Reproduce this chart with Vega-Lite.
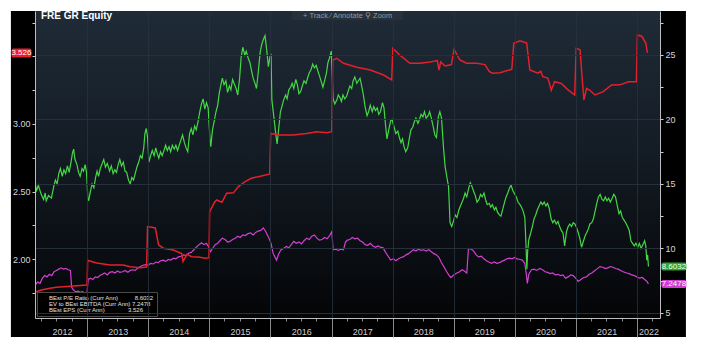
{
"$schema": "https://vega.github.io/schema/vega-lite/v6.json",
"width": 625, "height": 307,
"autosize": {"type": "none"},
"padding": {"left": 35, "top": 11, "right": 43, "bottom": 34},
"background": "white",
"title": {"text": "FRE GR Equity", "anchor": "start", "frame": "group", "offset": -10, "dx": 6, "color": "#ffffff", "fontSize": 10, "fontWeight": "bold", "font": "Liberation Sans", "zindex": 1},
"config": {
  "view": {"stroke": null},
  "legend": {"orient": "bottom-left", "offset": 2, "fillColor": "rgba(0,0,0,0.92)", "strokeColor": "#4a4a4a", "padding": 3, "rowPadding": 0, "symbolType": "square", "symbolSize": 16, "symbolStrokeWidth": 0, "labelFontSize": 6, "labelColor": "#e0e0e0", "labelFont": "Liberation Sans", "labelLimit": 0, "labelOffset": 3}
},
"datasets": {
"pe": [
{"d":"2012-02-27","v":14.9},{"d":"2012-03-05","v":14.5},{"d":"2012-03-15","v":14.9},{"d":"2012-04-01","v":14.2},{"d":"2012-04-15","v":13.8},{"d":"2012-04-25","v":14.3},{"d":"2012-05-01","v":13.7},{"d":"2012-05-15","v":14.1},{"d":"2012-06-01","v":13.9},{"d":"2012-06-15","v":14.8},{"d":"2012-06-25","v":15.3},{"d":"2012-07-05","v":15.0},{"d":"2012-07-15","v":15.8},{"d":"2012-07-25","v":16.2},{"d":"2012-08-05","v":15.6},{"d":"2012-08-15","v":16.1},{"d":"2012-08-25","v":15.8},{"d":"2012-09-05","v":16.4},{"d":"2012-09-15","v":15.9},{"d":"2012-09-25","v":16.6},{"d":"2012-10-05","v":17.4},{"d":"2012-10-12","v":17.7},{"d":"2012-10-20","v":16.9},{"d":"2012-11-01","v":16.5},{"d":"2012-11-10","v":15.9},{"d":"2012-11-20","v":15.6},{"d":"2012-12-01","v":16.2},{"d":"2012-12-10","v":16.0},{"d":"2012-12-20","v":16.5},{"d":"2012-12-28","v":15.9},
{"d":"2013-01-05","v":13.9},{"d":"2013-01-10","v":13.7},{"d":"2013-01-20","v":14.4},{"d":"2013-01-30","v":15.0},{"d":"2013-02-10","v":14.7},{"d":"2013-02-20","v":15.5},{"d":"2013-03-01","v":16.0},{"d":"2013-03-10","v":15.6},{"d":"2013-03-20","v":16.2},{"d":"2013-04-01","v":16.6},{"d":"2013-04-10","v":16.9},{"d":"2013-04-20","v":16.3},{"d":"2013-05-01","v":16.6},{"d":"2013-05-15","v":16.0},{"d":"2013-05-25","v":16.4},{"d":"2013-06-05","v":15.8},{"d":"2013-06-15","v":16.1},{"d":"2013-06-25","v":15.9},{"d":"2013-07-05","v":16.5},{"d":"2013-07-15","v":16.9},{"d":"2013-07-25","v":16.4},{"d":"2013-08-05","v":16.7},{"d":"2013-08-15","v":16.0},{"d":"2013-08-25","v":15.9},{"d":"2013-09-05","v":15.3},{"d":"2013-09-15","v":15.0},{"d":"2013-09-25","v":15.5},{"d":"2013-10-05","v":15.3},{"d":"2013-10-15","v":15.8},{"d":"2013-10-25","v":16.3},{"d":"2013-11-05","v":16.7},{"d":"2013-11-15","v":17.2},{"d":"2013-11-25","v":17.0},{"d":"2013-12-05","v":17.8},{"d":"2013-12-12","v":18.9},{"d":"2013-12-20","v":19.3},{"d":"2013-12-28","v":18.6},
{"d":"2014-01-05","v":16.7},{"d":"2014-01-15","v":17.2},{"d":"2014-01-25","v":17.6},{"d":"2014-02-05","v":17.2},{"d":"2014-02-15","v":17.8},{"d":"2014-02-25","v":17.3},{"d":"2014-03-05","v":17.0},{"d":"2014-03-15","v":17.5},{"d":"2014-03-25","v":17.2},{"d":"2014-04-05","v":17.6},{"d":"2014-04-15","v":18.0},{"d":"2014-04-25","v":17.6},{"d":"2014-05-05","v":17.9},{"d":"2014-05-15","v":17.5},{"d":"2014-05-25","v":18.0},{"d":"2014-06-05","v":17.7},{"d":"2014-06-15","v":18.0},{"d":"2014-06-25","v":17.6},{"d":"2014-07-05","v":18.0},{"d":"2014-07-15","v":18.4},{"d":"2014-07-25","v":18.8},{"d":"2014-08-05","v":18.2},{"d":"2014-08-15","v":17.8},{"d":"2014-08-25","v":17.5},{"d":"2014-09-05","v":18.9},{"d":"2014-09-15","v":19.3},{"d":"2014-09-25","v":18.8},{"d":"2014-10-05","v":19.5},{"d":"2014-10-15","v":19.2},{"d":"2014-10-25","v":19.8},{"d":"2014-11-05","v":20.6},{"d":"2014-11-15","v":21.2},{"d":"2014-11-25","v":21.6},{"d":"2014-12-05","v":20.8},{"d":"2014-12-15","v":21.3},{"d":"2014-12-25","v":20.9},
{"d":"2015-01-05","v":18.5},{"d":"2015-01-10","v":17.9},{"d":"2015-01-20","v":19.2},{"d":"2015-02-01","v":20.0},{"d":"2015-02-10","v":20.6},{"d":"2015-02-20","v":21.1},{"d":"2015-03-01","v":22.0},{"d":"2015-03-10","v":22.6},{"d":"2015-03-20","v":23.2},{"d":"2015-03-30","v":22.7},{"d":"2015-04-10","v":23.0},{"d":"2015-04-20","v":22.1},{"d":"2015-05-01","v":22.6},{"d":"2015-05-10","v":22.3},{"d":"2015-05-20","v":23.1},{"d":"2015-06-01","v":22.7},{"d":"2015-06-10","v":22.4},{"d":"2015-06-20","v":21.9},{"d":"2015-07-01","v":23.2},{"d":"2015-07-10","v":24.8},{"d":"2015-07-20","v":25.6},{"d":"2015-08-01","v":25.0},{"d":"2015-08-10","v":25.3},{"d":"2015-08-20","v":24.8},{"d":"2015-09-01","v":24.4},{"d":"2015-09-10","v":23.8},{"d":"2015-09-20","v":23.2},{"d":"2015-10-01","v":22.8},{"d":"2015-10-10","v":22.4},{"d":"2015-10-20","v":23.6},{"d":"2015-11-01","v":25.2},{"d":"2015-11-10","v":25.8},{"d":"2015-11-20","v":26.2},{"d":"2015-11-30","v":26.5},{"d":"2015-12-10","v":25.4},{"d":"2015-12-20","v":24.1},{"d":"2015-12-30","v":24.9},
{"d":"2016-01-05","v":25.1},{"d":"2016-01-10","v":21.5},{"d":"2016-01-20","v":20.4},{"d":"2016-02-01","v":19.0},{"d":"2016-02-10","v":18.1},{"d":"2016-02-20","v":19.3},{"d":"2016-03-01","v":20.6},{"d":"2016-03-10","v":21.0},{"d":"2016-03-20","v":21.5},{"d":"2016-04-01","v":21.9},{"d":"2016-04-10","v":21.6},{"d":"2016-04-20","v":22.3},{"d":"2016-05-01","v":22.5},{"d":"2016-05-10","v":22.8},{"d":"2016-05-20","v":22.4},{"d":"2016-06-01","v":23.1},{"d":"2016-06-10","v":22.7},{"d":"2016-06-20","v":22.0},{"d":"2016-07-01","v":22.2},{"d":"2016-07-10","v":22.6},{"d":"2016-07-20","v":23.0},{"d":"2016-08-01","v":22.8},{"d":"2016-08-10","v":23.2},{"d":"2016-08-20","v":23.6},{"d":"2016-09-01","v":23.9},{"d":"2016-09-10","v":24.3},{"d":"2016-09-20","v":24.0},{"d":"2016-10-01","v":24.2},{"d":"2016-10-10","v":23.8},{"d":"2016-10-20","v":23.4},{"d":"2016-11-01","v":22.9},{"d":"2016-11-10","v":22.5},{"d":"2016-11-20","v":23.0},{"d":"2016-12-01","v":23.6},{"d":"2016-12-10","v":24.4},{"d":"2016-12-20","v":24.8},{"d":"2016-12-30","v":25.3},
{"d":"2017-01-10","v":21.6},{"d":"2017-01-20","v":21.2},{"d":"2017-02-01","v":21.5},{"d":"2017-02-10","v":21.9},{"d":"2017-02-20","v":21.7},{"d":"2017-03-01","v":21.4},{"d":"2017-03-10","v":21.9},{"d":"2017-03-20","v":21.6},{"d":"2017-04-01","v":21.8},{"d":"2017-04-10","v":22.2},{"d":"2017-04-20","v":22.6},{"d":"2017-05-01","v":22.4},{"d":"2017-05-10","v":23.0},{"d":"2017-05-20","v":23.3},{"d":"2017-06-01","v":22.8},{"d":"2017-06-10","v":23.0},{"d":"2017-06-20","v":23.2},{"d":"2017-07-01","v":22.5},{"d":"2017-07-10","v":21.9},{"d":"2017-07-20","v":21.0},{"d":"2017-08-01","v":20.3},{"d":"2017-08-10","v":20.6},{"d":"2017-08-20","v":21.1},{"d":"2017-09-01","v":20.6},{"d":"2017-09-10","v":21.0},{"d":"2017-09-20","v":20.7},{"d":"2017-10-01","v":20.9},{"d":"2017-10-10","v":20.4},{"d":"2017-10-20","v":20.6},{"d":"2017-11-01","v":21.3},{"d":"2017-11-10","v":20.9},{"d":"2017-11-20","v":19.5},{"d":"2017-11-28","v":18.5},{"d":"2017-12-10","v":19.3},{"d":"2017-12-20","v":19.9},{"d":"2017-12-28","v":20.0},
{"d":"2018-01-10","v":19.4},{"d":"2018-01-20","v":18.9},{"d":"2018-02-01","v":19.1},{"d":"2018-02-10","v":18.6},{"d":"2018-02-20","v":18.2},{"d":"2018-03-01","v":18.5},{"d":"2018-03-10","v":17.9},{"d":"2018-03-20","v":17.5},{"d":"2018-04-01","v":17.8},{"d":"2018-04-10","v":18.5},{"d":"2018-04-20","v":19.2},{"d":"2018-05-01","v":19.4},{"d":"2018-05-10","v":19.8},{"d":"2018-05-20","v":20.1},{"d":"2018-06-01","v":19.7},{"d":"2018-06-10","v":20.0},{"d":"2018-06-20","v":20.4},{"d":"2018-07-01","v":20.2},{"d":"2018-07-10","v":20.6},{"d":"2018-07-20","v":20.1},{"d":"2018-08-01","v":20.3},{"d":"2018-08-10","v":20.6},{"d":"2018-08-20","v":20.1},{"d":"2018-09-01","v":19.4},{"d":"2018-09-10","v":18.8},{"d":"2018-09-20","v":18.6},{"d":"2018-10-01","v":20.2},{"d":"2018-10-10","v":20.6},{"d":"2018-10-20","v":20.1},{"d":"2018-11-01","v":17.8},{"d":"2018-11-10","v":16.4},{"d":"2018-11-20","v":15.6},{"d":"2018-12-01","v":14.8},{"d":"2018-12-10","v":12.0},{"d":"2018-12-20","v":11.7},
{"d":"2019-01-01","v":12.2},{"d":"2019-01-10","v":12.6},{"d":"2019-01-20","v":12.4},{"d":"2019-02-01","v":13.0},{"d":"2019-02-10","v":13.3},{"d":"2019-02-20","v":13.6},{"d":"2019-03-01","v":13.9},{"d":"2019-03-10","v":14.3},{"d":"2019-03-20","v":14.0},{"d":"2019-04-01","v":14.7},{"d":"2019-04-10","v":15.1},{"d":"2019-04-20","v":14.8},{"d":"2019-05-01","v":14.4},{"d":"2019-05-10","v":14.1},{"d":"2019-05-20","v":13.6},{"d":"2019-06-01","v":13.8},{"d":"2019-06-10","v":14.2},{"d":"2019-06-20","v":14.0},{"d":"2019-07-01","v":14.3},{"d":"2019-07-10","v":13.8},{"d":"2019-07-20","v":13.4},{"d":"2019-08-01","v":13.5},{"d":"2019-08-10","v":13.2},{"d":"2019-08-20","v":13.4},{"d":"2019-09-01","v":13.0},{"d":"2019-09-10","v":13.2},{"d":"2019-09-20","v":12.8},{"d":"2019-10-01","v":12.6},{"d":"2019-10-10","v":12.5},{"d":"2019-10-20","v":13.0},{"d":"2019-11-01","v":13.6},{"d":"2019-11-10","v":14.0},{"d":"2019-11-20","v":14.3},{"d":"2019-12-01","v":14.7},{"d":"2019-12-10","v":14.9},{"d":"2019-12-20","v":14.5},
{"d":"2020-01-01","v":14.2},{"d":"2020-01-10","v":14.0},{"d":"2020-01-20","v":13.6},{"d":"2020-02-01","v":13.4},{"d":"2020-02-10","v":13.2},{"d":"2020-02-20","v":12.9},{"d":"2020-03-01","v":12.4},{"d":"2020-03-08","v":10.3},{"d":"2020-03-13","v":8.4},{"d":"2020-03-18","v":9.8},{"d":"2020-03-25","v":10.7},{"d":"2020-04-05","v":11.2},{"d":"2020-04-15","v":11.7},{"d":"2020-04-25","v":12.3},{"d":"2020-05-05","v":12.6},{"d":"2020-05-15","v":13.0},{"d":"2020-05-25","v":13.3},{"d":"2020-06-05","v":13.6},{"d":"2020-06-15","v":13.4},{"d":"2020-06-25","v":13.6},{"d":"2020-07-05","v":13.3},{"d":"2020-07-15","v":13.5},{"d":"2020-07-25","v":13.1},{"d":"2020-08-05","v":12.3},{"d":"2020-08-15","v":12.0},{"d":"2020-08-25","v":12.2},{"d":"2020-09-05","v":11.9},{"d":"2020-09-15","v":12.1},{"d":"2020-09-25","v":11.7},{"d":"2020-10-05","v":11.4},{"d":"2020-10-15","v":11.2},{"d":"2020-10-25","v":10.2},{"d":"2020-11-05","v":11.3},{"d":"2020-11-15","v":11.7},{"d":"2020-11-25","v":11.9},{"d":"2020-12-05","v":11.7},{"d":"2020-12-15","v":12.0},{"d":"2020-12-25","v":11.9},
{"d":"2021-01-05","v":11.6},{"d":"2021-01-15","v":11.2},{"d":"2021-01-25","v":10.7},{"d":"2021-02-03","v":10.1},{"d":"2021-02-15","v":10.6},{"d":"2021-02-25","v":11.0},{"d":"2021-03-05","v":11.2},{"d":"2021-03-15","v":11.5},{"d":"2021-03-25","v":11.9},{"d":"2021-04-05","v":12.0},{"d":"2021-04-15","v":12.3},{"d":"2021-04-25","v":12.9},{"d":"2021-05-05","v":13.5},{"d":"2021-05-15","v":14.0},{"d":"2021-05-25","v":14.2},{"d":"2021-06-05","v":13.8},{"d":"2021-06-15","v":13.7},{"d":"2021-06-25","v":14.0},{"d":"2021-07-05","v":13.7},{"d":"2021-07-15","v":13.9},{"d":"2021-07-25","v":13.6},{"d":"2021-08-05","v":13.9},{"d":"2021-08-15","v":14.2},{"d":"2021-08-25","v":14.0},{"d":"2021-09-05","v":13.3},{"d":"2021-09-15","v":12.7},{"d":"2021-09-25","v":12.9},{"d":"2021-10-05","v":12.4},{"d":"2021-10-15","v":12.2},{"d":"2021-10-25","v":12.0},{"d":"2021-11-05","v":11.7},{"d":"2021-11-15","v":11.4},{"d":"2021-11-25","v":10.6},{"d":"2021-12-05","v":10.4},{"d":"2021-12-15","v":10.2},{"d":"2021-12-25","v":10.4},
{"d":"2022-01-05","v":10.1},{"d":"2022-01-15","v":10.4},{"d":"2022-01-25","v":10.0},{"d":"2022-02-05","v":10.3},{"d":"2022-02-15","v":10.6},{"d":"2022-02-22","v":10.2},{"d":"2022-02-28","v":9.1},{"d":"2022-03-05","v":9.5},{"d":"2022-03-10","v":8.6}
],
"ev": [
{"d":"2012-02-27","v":7.2},{"d":"2012-03-10","v":7.4},{"d":"2012-03-25","v":7.3},{"d":"2012-04-08","v":7.7},{"d":"2012-04-22","v":7.9},{"d":"2012-05-06","v":7.8},{"d":"2012-05-20","v":8.0},{"d":"2012-06-03","v":7.9},{"d":"2012-06-17","v":8.2},{"d":"2012-07-01","v":8.3},{"d":"2012-07-15","v":8.4},{"d":"2012-07-29","v":8.5},{"d":"2012-08-12","v":8.4},{"d":"2012-08-26","v":8.45},{"d":"2012-09-09","v":8.35},{"d":"2012-09-23","v":8.3},{"d":"2012-09-30","v":7.0},{"d":"2012-10-10","v":6.8},{"d":"2012-10-24","v":6.65},{"d":"2012-11-07","v":6.7},{"d":"2012-11-21","v":6.6},{"d":"2012-12-05","v":6.65},{"d":"2012-12-19","v":6.5},{"d":"2012-12-31","v":6.6},
{"d":"2013-01-07","v":7.6},{"d":"2013-01-21","v":7.7},{"d":"2013-02-04","v":7.6},{"d":"2013-02-18","v":7.8},{"d":"2013-03-04","v":7.75},{"d":"2013-03-18","v":7.9},{"d":"2013-04-01","v":8.0},{"d":"2013-04-15","v":8.1},{"d":"2013-05-01","v":7.95},{"d":"2013-05-15","v":8.15},{"d":"2013-06-01","v":8.2},{"d":"2013-06-15","v":8.1},{"d":"2013-07-01","v":8.25},{"d":"2013-07-15","v":8.15},{"d":"2013-08-01","v":8.2},{"d":"2013-08-15","v":8.3},{"d":"2013-09-01","v":8.15},{"d":"2013-09-15","v":8.3},{"d":"2013-10-01","v":8.35},{"d":"2013-10-15","v":8.3},{"d":"2013-11-01","v":8.5},{"d":"2013-11-15","v":8.6},{"d":"2013-12-01","v":8.7},{"d":"2013-12-15","v":8.75},
{"d":"2014-01-01","v":8.7},{"d":"2014-01-15","v":8.85},{"d":"2014-02-01","v":8.8},{"d":"2014-02-15","v":8.95},{"d":"2014-03-01","v":8.9},{"d":"2014-03-15","v":9.05},{"d":"2014-04-01","v":9.1},{"d":"2014-04-15","v":9.0},{"d":"2014-05-01","v":9.15},{"d":"2014-05-15","v":9.1},{"d":"2014-06-01","v":9.25},{"d":"2014-06-15","v":9.2},{"d":"2014-07-01","v":9.35},{"d":"2014-07-15","v":9.4},{"d":"2014-08-01","v":9.5},{"d":"2014-08-15","v":9.45},{"d":"2014-09-01","v":9.65},{"d":"2014-09-15","v":9.7},{"d":"2014-10-01","v":9.9},{"d":"2014-10-15","v":10.1},{"d":"2014-11-01","v":10.3},{"d":"2014-11-15","v":10.45},{"d":"2014-12-01","v":10.3},{"d":"2014-12-15","v":10.4},{"d":"2014-12-29","v":10.1},
{"d":"2015-01-08","v":9.75},{"d":"2015-01-20","v":10.0},{"d":"2015-02-05","v":10.3},{"d":"2015-02-20","v":10.4},{"d":"2015-03-05","v":10.6},{"d":"2015-03-20","v":10.8},{"d":"2015-04-05","v":10.7},{"d":"2015-04-20","v":10.5},{"d":"2015-05-05","v":10.55},{"d":"2015-05-20","v":10.7},{"d":"2015-06-05","v":10.8},{"d":"2015-06-20","v":10.95},{"d":"2015-07-05","v":10.85},{"d":"2015-07-20","v":11.05},{"d":"2015-08-05","v":11.0},{"d":"2015-08-20","v":11.15},{"d":"2015-09-05","v":11.2},{"d":"2015-09-20","v":11.05},{"d":"2015-10-05","v":11.25},{"d":"2015-10-20","v":11.35},{"d":"2015-11-05","v":11.4},{"d":"2015-11-20","v":11.6},{"d":"2015-12-05","v":11.3},{"d":"2015-12-20","v":10.9},
{"d":"2016-01-05","v":10.4},{"d":"2016-01-18","v":9.6},{"d":"2016-02-07","v":9.1},{"d":"2016-02-20","v":9.6},{"d":"2016-03-05","v":9.9},{"d":"2016-03-20","v":10.0},{"d":"2016-04-05","v":10.15},{"d":"2016-04-20","v":10.05},{"d":"2016-05-05","v":10.3},{"d":"2016-05-20","v":10.55},{"d":"2016-06-05","v":10.4},{"d":"2016-06-20","v":10.5},{"d":"2016-07-05","v":10.35},{"d":"2016-07-20","v":10.6},{"d":"2016-08-05","v":10.8},{"d":"2016-08-20","v":10.7},{"d":"2016-09-05","v":10.95},{"d":"2016-09-20","v":11.05},{"d":"2016-10-05","v":10.8},{"d":"2016-10-20","v":10.65},{"d":"2016-11-05","v":10.7},{"d":"2016-11-20","v":10.85},{"d":"2016-12-05","v":10.75},{"d":"2016-12-20","v":11.0},
{"d":"2017-01-02","v":11.3},{"d":"2017-01-10","v":9.9},{"d":"2017-01-25","v":9.95},{"d":"2017-02-10","v":9.85},{"d":"2017-02-25","v":9.95},{"d":"2017-03-13","v":9.9},{"d":"2017-03-25","v":10.5},{"d":"2017-04-05","v":10.65},{"d":"2017-04-20","v":10.7},{"d":"2017-05-05","v":10.85},{"d":"2017-05-20","v":10.75},{"d":"2017-06-05","v":10.8},{"d":"2017-06-20","v":10.6},{"d":"2017-07-05","v":10.5},{"d":"2017-07-20","v":10.3},{"d":"2017-08-05","v":10.25},{"d":"2017-08-20","v":10.4},{"d":"2017-09-05","v":10.2},{"d":"2017-09-20","v":10.1},{"d":"2017-10-05","v":10.2},{"d":"2017-10-20","v":10.1},{"d":"2017-11-05","v":10.05},{"d":"2017-11-20","v":9.7},{"d":"2017-12-05","v":9.4},{"d":"2017-12-20","v":9.1},
{"d":"2018-01-05","v":9.2},{"d":"2018-01-20","v":9.05},{"d":"2018-02-05","v":9.2},{"d":"2018-02-20","v":9.3},{"d":"2018-03-05","v":9.35},{"d":"2018-03-20","v":9.5},{"d":"2018-04-05","v":9.6},{"d":"2018-04-20","v":9.75},{"d":"2018-05-05","v":9.9},{"d":"2018-05-20","v":9.8},{"d":"2018-06-05","v":9.95},{"d":"2018-06-20","v":9.85},{"d":"2018-07-05","v":9.9},{"d":"2018-07-20","v":9.8},{"d":"2018-08-05","v":9.9},{"d":"2018-08-20","v":9.75},{"d":"2018-09-05","v":9.6},{"d":"2018-09-20","v":9.5},{"d":"2018-10-05","v":9.3},{"d":"2018-10-20","v":8.9},{"d":"2018-11-05","v":8.55},{"d":"2018-11-20","v":8.2},{"d":"2018-12-05","v":7.9},{"d":"2018-12-15","v":7.75},
{"d":"2019-01-01","v":7.95},{"d":"2019-01-20","v":8.1},{"d":"2019-02-05","v":8.2},{"d":"2019-02-20","v":8.35},{"d":"2019-03-05","v":8.25},{"d":"2019-03-20","v":8.1},{"d":"2019-03-30","v":10.0},{"d":"2019-04-15","v":9.95},{"d":"2019-04-30","v":9.8},{"d":"2019-05-15","v":9.5},{"d":"2019-05-30","v":9.35},{"d":"2019-06-15","v":9.4},{"d":"2019-06-30","v":9.2},{"d":"2019-07-15","v":9.05},{"d":"2019-07-30","v":8.95},{"d":"2019-08-15","v":8.85},{"d":"2019-09-01","v":8.95},{"d":"2019-09-15","v":8.85},{"d":"2019-10-01","v":8.9},{"d":"2019-10-15","v":9.0},{"d":"2019-11-01","v":9.1},{"d":"2019-11-15","v":9.2},{"d":"2019-12-01","v":9.25},{"d":"2019-12-15","v":9.2},
{"d":"2020-01-01","v":9.3},{"d":"2020-01-15","v":9.2},{"d":"2020-02-01","v":9.15},{"d":"2020-02-15","v":9.1},{"d":"2020-03-01","v":8.85},{"d":"2020-03-10","v":8.0},{"d":"2020-03-16","v":7.3},{"d":"2020-03-25","v":8.0},{"d":"2020-04-10","v":8.35},{"d":"2020-04-25","v":8.4},{"d":"2020-05-10","v":8.3},{"d":"2020-05-30","v":8.45},{"d":"2020-06-15","v":8.35},{"d":"2020-06-30","v":8.2},{"d":"2020-07-15","v":8.15},{"d":"2020-07-30","v":8.05},{"d":"2020-08-15","v":8.1},{"d":"2020-08-30","v":7.95},{"d":"2020-09-15","v":8.0},{"d":"2020-09-30","v":7.9},{"d":"2020-10-15","v":7.95},{"d":"2020-10-30","v":7.7},{"d":"2020-11-15","v":7.8},{"d":"2020-11-30","v":7.95},{"d":"2020-12-15","v":7.9},{"d":"2020-12-30","v":7.7},
{"d":"2021-01-14","v":7.45},{"d":"2021-01-30","v":7.6},{"d":"2021-02-15","v":7.75},{"d":"2021-03-05","v":7.8},{"d":"2021-03-20","v":8.0},{"d":"2021-04-05","v":8.1},{"d":"2021-04-20","v":8.25},{"d":"2021-05-05","v":8.4},{"d":"2021-05-24","v":8.6},{"d":"2021-06-10","v":8.55},{"d":"2021-06-25","v":8.45},{"d":"2021-07-10","v":8.5},{"d":"2021-07-25","v":8.6},{"d":"2021-08-10","v":8.55},{"d":"2021-08-25","v":8.45},{"d":"2021-09-10","v":8.4},{"d":"2021-09-25","v":8.3},{"d":"2021-10-10","v":8.2},{"d":"2021-10-31","v":8.1},{"d":"2021-11-15","v":8.05},{"d":"2021-11-30","v":7.95},{"d":"2021-12-15","v":7.9},{"d":"2021-12-31","v":7.8},
{"d":"2022-01-15","v":7.7},{"d":"2022-02-01","v":7.75},{"d":"2022-02-15","v":7.6},{"d":"2022-03-01","v":7.45},{"d":"2022-03-10","v":7.25}
],
"eps": [
{"d":"2012-02-27","v":1.755},{"d":"2012-04-01","v":1.77},{"d":"2012-05-24","v":1.783},{"d":"2012-07-01","v":1.79},{"d":"2012-08-12","v":1.795},{"d":"2012-10-11","v":1.8},{"d":"2012-12-31","v":1.807},
{"d":"2013-01-04","v":1.99},{"d":"2013-02-01","v":1.98},{"d":"2013-02-27","v":1.97},{"d":"2013-05-18","v":1.956},{"d":"2013-08-05","v":1.956},{"d":"2013-09-15","v":1.943},{"d":"2013-11-12","v":1.935},{"d":"2013-12-22","v":1.94},{"d":"2013-12-28","v":2.24},
{"d":"2014-01-20","v":2.235},{"d":"2014-02-12","v":2.23},{"d":"2014-03-04","v":2.104},{"d":"2014-04-01","v":2.08},{"d":"2014-05-31","v":2.067},{"d":"2014-07-20","v":2.04},{"d":"2014-07-28","v":1.98},{"d":"2014-08-05","v":2.0},{"d":"2014-08-20","v":2.035},{"d":"2014-09-18","v":2.017},{"d":"2014-10-28","v":2.015},{"d":"2014-12-07","v":2.005},{"d":"2014-12-30","v":2.01},
{"d":"2015-01-03","v":2.35},{"d":"2015-02-01","v":2.42},{"d":"2015-02-14","v":2.437},{"d":"2015-03-17","v":2.42},{"d":"2015-04-15","v":2.487},{"d":"2015-05-25","v":2.49},{"d":"2015-06-24","v":2.536},{"d":"2015-08-03","v":2.573},{"d":"2015-09-12","v":2.6},{"d":"2015-10-22","v":2.61},{"d":"2015-12-28","v":2.63},
{"d":"2016-01-03","v":2.93},{"d":"2016-02-28","v":2.918},{"d":"2016-05-17","v":2.918},{"d":"2016-08-05","v":2.93},{"d":"2016-10-04","v":2.943},{"d":"2016-12-03","v":2.935},{"d":"2017-01-02","v":2.943},
{"d":"2017-01-08","v":3.474},{"d":"2017-02-01","v":3.487},{"d":"2017-03-13","v":3.45},{"d":"2017-06-01","v":3.42},{"d":"2017-08-20","v":3.4},{"d":"2017-11-08","v":3.363},{"d":"2017-12-26","v":3.326},
{"d":"2018-01-02","v":3.56},{"d":"2018-02-13","v":3.51},{"d":"2018-04-14","v":3.45},{"d":"2018-06-13","v":3.45},{"d":"2018-08-13","v":3.46},{"d":"2018-09-25","v":3.47},{"d":"2018-10-05","v":3.4},{"d":"2018-10-15","v":3.46},{"d":"2018-11-11","v":3.43},{"d":"2018-12-18","v":3.44},
{"d":"2019-01-03","v":3.553},{"d":"2019-02-07","v":3.474},{"d":"2019-03-19","v":3.45},{"d":"2019-05-18","v":3.45},{"d":"2019-07-07","v":3.44},{"d":"2019-08-01","v":3.39},{"d":"2019-08-20","v":3.376},{"d":"2019-10-05","v":3.38},{"d":"2019-12-14","v":3.405},{"d":"2019-12-26","v":3.598},
{"d":"2020-02-01","v":3.617},{"d":"2020-03-12","v":3.6},{"d":"2020-03-31","v":3.4},{"d":"2020-05-18","v":3.376},{"d":"2020-06-04","v":3.39},{"d":"2020-06-17","v":3.35},{"d":"2020-07-17","v":3.34},{"d":"2020-08-06","v":3.25},{"d":"2020-08-26","v":3.313},{"d":"2020-10-05","v":3.3},{"d":"2020-11-04","v":3.264},{"d":"2020-12-24","v":3.215},
{"d":"2021-01-02","v":3.56},{"d":"2021-01-25","v":3.55},{"d":"2021-02-03","v":3.4},{"d":"2021-02-17","v":3.178},{"d":"2021-03-05","v":3.264},{"d":"2021-03-25","v":3.25},{"d":"2021-04-24","v":3.215},{"d":"2021-06-13","v":3.24},{"d":"2021-08-01","v":3.289},{"d":"2021-09-21","v":3.29},{"d":"2021-11-10","v":3.313},{"d":"2021-12-28","v":3.313},
{"d":"2022-01-03","v":3.659},{"d":"2022-01-29","v":3.65},{"d":"2022-02-22","v":3.6},{"d":"2022-03-04","v":3.526}
]
},
"layer": [
{
  "data": {"values": [{}]},
  "mark": {"type": "rect", "color": "#000000"},
  "encoding": {
    "x": {"datum": {"year": 2011, "month": 10, "date": 3}, "type": "temporal", "title": null,
      "scale": {"domain": [{"year": 2012, "month": 2, "date": 24}, {"year": 2022, "month": 5, "date": 18}]},
      "axis": {
        "tickCount": 200,
        "values": [
          {"year": 2012, "month": 4, "date": 1}, {"year": 2012, "month": 7, "date": 1}, {"year": 2012, "month": 8, "date": 3}, {"year": 2012, "month": 10, "date": 1},
          {"year": 2013, "month": 1, "date": 1}, {"year": 2013, "month": 4, "date": 1}, {"year": 2013, "month": 7, "date": 1}, {"year": 2013, "month": 7, "date": 3}, {"year": 2013, "month": 10, "date": 1},
          {"year": 2014, "month": 1, "date": 1}, {"year": 2014, "month": 4, "date": 1}, {"year": 2014, "month": 7, "date": 1}, {"year": 2014, "month": 7, "date": 3}, {"year": 2014, "month": 10, "date": 1},
          {"year": 2015, "month": 1, "date": 1}, {"year": 2015, "month": 4, "date": 1}, {"year": 2015, "month": 7, "date": 1}, {"year": 2015, "month": 7, "date": 3}, {"year": 2015, "month": 10, "date": 1},
          {"year": 2016, "month": 1, "date": 1}, {"year": 2016, "month": 4, "date": 1}, {"year": 2016, "month": 7, "date": 1}, {"year": 2016, "month": 7, "date": 3}, {"year": 2016, "month": 10, "date": 1},
          {"year": 2017, "month": 1, "date": 1}, {"year": 2017, "month": 4, "date": 1}, {"year": 2017, "month": 7, "date": 1}, {"year": 2017, "month": 7, "date": 3}, {"year": 2017, "month": 10, "date": 1},
          {"year": 2018, "month": 1, "date": 1}, {"year": 2018, "month": 4, "date": 1}, {"year": 2018, "month": 7, "date": 1}, {"year": 2018, "month": 7, "date": 3}, {"year": 2018, "month": 10, "date": 1},
          {"year": 2019, "month": 1, "date": 1}, {"year": 2019, "month": 4, "date": 1}, {"year": 2019, "month": 7, "date": 1}, {"year": 2019, "month": 7, "date": 3}, {"year": 2019, "month": 10, "date": 1},
          {"year": 2020, "month": 1, "date": 1}, {"year": 2020, "month": 4, "date": 1}, {"year": 2020, "month": 7, "date": 1}, {"year": 2020, "month": 7, "date": 3}, {"year": 2020, "month": 10, "date": 1},
          {"year": 2021, "month": 1, "date": 1}, {"year": 2021, "month": 4, "date": 1}, {"year": 2021, "month": 7, "date": 1}, {"year": 2021, "month": 7, "date": 3}, {"year": 2021, "month": 10, "date": 1},
          {"year": 2022, "month": 1, "date": 1}, {"year": 2022, "month": 3, "date": 10}, {"year": 2022, "month": 4, "date": 1}
        ],
        "labelExpr": "date(datum.value) == 1 ? '' : timeFormat(datum.value, '%Y')",
        "tickSize": {"condition": {"test": "month(datum.value) == 0 && date(datum.value) == 1", "value": 19}, "value": 3},
        "tickColor": {"condition": {"test": "date(datum.value) == 1", "value": "#8a8a8a"}, "value": "transparent"},
        "grid": true,
        "gridColor": {"condition": {"test": "month(datum.value) == 0 && date(datum.value) == 1", "value": "#27323d"}, "value": "transparent"},
        "gridOpacity": 0.8,
        "domainColor": "#bdbdbd",
        "labelColor": "#cfcfcf", "labelFont": "Liberation Sans", "labelFontSize": 9, "labelPadding": 10, "labelFlush": false, "labelOverlap": false, "labelBaseline": "middle",
        "title": null, "zindex": 1
      }
    },
    "x2": {"datum": {"year": 2022, "month": 10, "date": 20}},
    "y": {"datum": 3.137, "type": "quantitative", "scale": {"domain": [4.612, 28.41], "nice": false, "zero": false}, "axis": null},
    "y2": {"datum": 28.41}
  }
},
{
  "data": {"values": [{}]},
  "mark": {"type": "rect", "color": {"gradient": "linear", "x1": 0, "y1": 0, "x2": 0, "y2": 1, "stops": [{"offset": 0, "color": "#1f2b37"}, {"offset": 0.45, "color": "#141c25"}, {"offset": 1, "color": "#040507"}]}},
  "encoding": {}
},
{
  "data": {"values": [{}]},
  "mark": {"type": "tick", "orient": "horizontal", "size": 111, "thickness": 9, "color": "#26313b", "opacity": 1},
  "encoding": {
    "x": {"datum": {"year": 2017, "month": 4, "date": 7}, "type": "temporal"},
    "y": {"datum": 28.06, "type": "quantitative", "scale": {"domain": [4.612, 28.41], "nice": false, "zero": false}, "axis": null}
  }
},
{
  "data": {"values": [{}]},
  "mark": {"type": "text", "text": "+ Track   ⁄ Annotate   ⚲ Zoom", "font": "Liberation Sans", "fontSize": 7.5, "color": "#8d99a5", "baseline": "middle"},
  "encoding": {
    "x": {"datum": {"year": 2017, "month": 4, "date": 7}, "type": "temporal"},
    "y": {"datum": 28.06, "type": "quantitative", "scale": {"domain": [4.612, 28.41], "nice": false, "zero": false}, "axis": null}
  }
},
{
  "data": {"name": "ev"},
  "mark": {"type": "line", "strokeWidth": 1.2},
  "encoding": {
    "x": {"field": "d", "type": "temporal"},
    "y": {"field": "v", "type": "quantitative", "scale": {"domain": [4.612, 28.41], "nice": false, "zero": false}, "axis": null},
    "color": {"datum": "ev", "type": "nominal", "scale": {"domain": ["pe", "ev", "eps"], "range": ["#44d844", "#d43fd4", "#e3202b"]}, "legend": {"title": null, "labelExpr": "datum.value == 'pe' ? 'BEst P/E Ratio (Curr Ann)\u00a0\u00a0\u00a0\u00a0\u00a0\u00a0\u00a0\u00a0\u00a0\u00a08.6032' : datum.value == 'ev' ? 'EV to BEst EBITDA (Curr Ann)\u00a07.2478' : 'BEst EPS (Curr Ann)\u00a0\u00a0\u00a0\u00a0\u00a0\u00a0\u00a0\u00a0\u00a0\u00a0\u00a0\u00a0\u00a0\u00a03.526'"}}
  }
},
{
  "data": {"name": "pe"},
  "mark": {"type": "line", "strokeWidth": 1.2},
  "encoding": {
    "x": {"field": "d", "type": "temporal"},
    "y": {"field": "v", "type": "quantitative", "scale": {"domain": [4.612, 28.41], "nice": false, "zero": false},
      "axis": {"orient": "right", "title": null, "tickCount": 50, "values": [5, 7.5, 10, 12.5, 15, 17.5, 20, 22.5, 25, 27.5],
        "labelExpr": "datum.value % 5 == 0 ? datum.value : ''",
        "tickSize": 3, "tickColor": "#cfcfcf", "domainColor": "#bdbdbd",
        "grid": true, "gridColor": {"condition": {"test": "datum.value % 5 == 0", "value": "#25303b"}, "value": "transparent"},
        "labelColor": "#d6d6d6", "labelFont": "Liberation Sans", "labelFontSize": 9, "labelPadding": 2, "zindex": 1}},
    "color": {"datum": "pe", "type": "nominal", "scale": {"domain": ["pe", "ev", "eps"], "range": ["#44d844", "#d43fd4", "#e3202b"]}}
  }
},
{
  "data": {"name": "eps"},
  "mark": {"type": "line", "strokeWidth": 1.5},
  "encoding": {
    "x": {"field": "d", "type": "temporal"},
    "y": {"field": "v", "type": "quantitative", "scale": {"domain": [1.563, 3.837], "nice": false, "zero": false},
      "axis": {"orient": "left", "title": null, "tickCount": 50, "values": [1.75, 2, 2.25, 2.5, 2.75, 3, 3.25, 3.5, 3.75],
        "labelExpr": "(datum.value == 2 || datum.value == 2.5 || datum.value == 3) ? format(datum.value, '.2f') : ''",
        "tickSize": 3, "tickColor": "#cfcfcf", "domainColor": "#bdbdbd", "grid": false,
        "labelColor": "#d6d6d6", "labelFont": "Liberation Sans", "labelFontSize": 9, "labelPadding": 2, "zindex": 1}},
    "color": {"datum": "eps", "type": "nominal", "scale": {"domain": ["pe", "ev", "eps"], "range": ["#44d844", "#d43fd4", "#e3202b"]}}
  }
},
{
  "data": {"values": [{"s": "pe", "v": 8.6032, "t": "8.6032"}, {"s": "ev", "v": 7.2478, "t": "7.2478"}]},
  "mark": {"type": "tick", "orient": "horizontal", "size": 25, "thickness": 8, "cornerRadius": 2, "opacity": 1},
  "encoding": {
    "x": {"datum": {"year": 2022, "month": 8, "date": 9}, "type": "temporal"},
    "y": {"field": "v", "type": "quantitative", "scale": {"domain": [4.612, 28.41], "nice": false, "zero": false}, "axis": null},
    "fill": {"field": "s", "type": "nominal", "scale": {"domain": ["pe", "ev"], "range": ["#2ea52e", "#d23cd2"]}, "legend": null}
  }
},
{
  "data": {"values": [{"s": "pe", "v": 8.6032, "t": "8.6032"}, {"s": "ev", "v": 7.2478, "t": "7.2478"}]},
  "mark": {"type": "text", "font": "Liberation Sans", "fontSize": 8, "baseline": "middle", "color": "#f0fff0"},
  "encoding": {
    "x": {"datum": {"year": 2022, "month": 8, "date": 9}, "type": "temporal"},
    "y": {"field": "v", "type": "quantitative", "scale": {"domain": [4.612, 28.41], "nice": false, "zero": false}, "axis": null},
    "text": {"field": "t"}
  }
},
{
  "data": {"values": [{"v": 3.526, "t": "3.526"}]},
  "mark": {"type": "tick", "orient": "horizontal", "size": 20, "thickness": 9, "cornerRadius": 2, "color": "#e8202a", "opacity": 1},
  "encoding": {
    "x": {"datum": {"year": 2011, "month": 12, "date": 5}, "type": "temporal"},
    "y": {"field": "v", "type": "quantitative", "scale": {"domain": [1.563, 3.837], "nice": false, "zero": false}, "axis": null}
  }
},
{
  "data": {"values": [{"v": 3.526, "t": "3.526"}]},
  "mark": {"type": "text", "font": "Liberation Sans", "fontSize": 8, "baseline": "middle", "color": "#ffffff"},
  "encoding": {
    "x": {"datum": {"year": 2011, "month": 12, "date": 5}, "type": "temporal"},
    "y": {"field": "v", "type": "quantitative", "scale": {"domain": [1.563, 3.837], "nice": false, "zero": false}, "axis": null},
    "text": {"field": "t"}
  }
}
],
"resolve": {"scale": {"y": "independent", "fill": "independent"}}
}
